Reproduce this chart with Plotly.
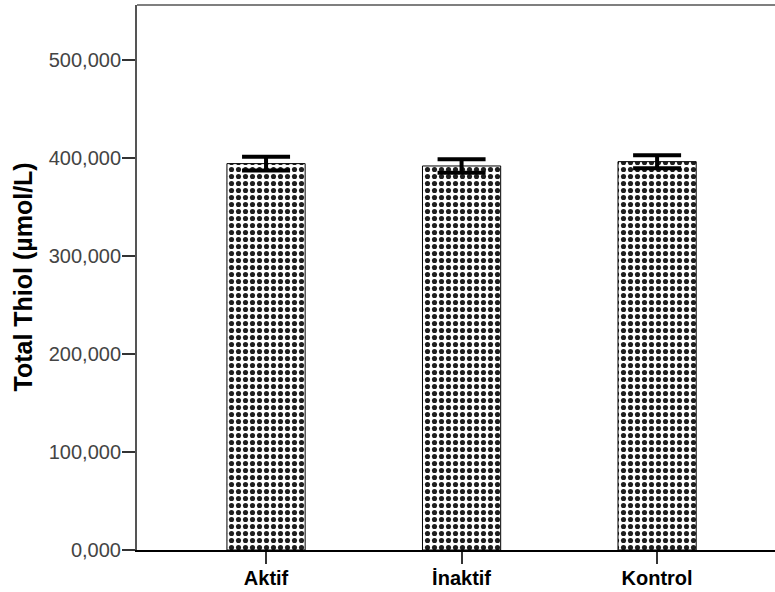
import plotly.graph_objects as go

# Group means and standard errors of total thiol (µmol/L)
groups = ["Aktif", "İnaktif", "Kontrol"]
total_thiol = [393900, 391500, 395900]
thiol_err = [7100, 6900, 6600]

# Y-axis ticks (comma as decimal separator, three decimals)
y_tickvals = [0, 100000, 200000, 300000, 400000, 500000]
y_ticktext = ["0,000", "100,000", "200,000", "300,000", "400,000", "500,000"]

fig = go.Figure()
fig.add_trace(go.Bar(
    x=groups,
    y=total_thiol,
    width=0.4,
    marker=dict(
        color="white",
        line=dict(color="black", width=1),
        pattern=dict(shape=".", fgcolor="#1e1e1e", bgcolor="white",
                     size=7, solidity=0.42, fillmode="replace"),
    ),
    error_y=dict(type="data", array=thiol_err, visible=True,
                 color="black", thickness=4, width=24),
    showlegend=False,
))

fig.update_layout(
    width=775, height=592,
    margin=dict(l=137, r=0, t=5, b=42),
    paper_bgcolor="white", plot_bgcolor="white",
    font=dict(family="Liberation Sans, Arial, sans-serif"),
    xaxis=dict(
        type="category",
        range=[-0.66, 2.603],
        showline=True, linecolor="black", linewidth=1.5,
        ticks="outside", ticklen=12, tickwidth=1.5, tickcolor="#333333",
        ticklabelstandoff=-3,
        tickfont=dict(size=20, color="black", family="Liberation Sans, Arial, sans-serif", weight="bold"),
        showgrid=False, zeroline=False,
    ),
    yaxis=dict(
        range=[0, 555600],
        tickvals=y_tickvals, ticktext=y_ticktext,
        showline=True, linecolor="#555555", linewidth=2,
        ticks="outside", ticklen=13, tickwidth=1.5, tickcolor="#333333",
        ticklabelstandoff=-3,
        tickfont=dict(size=20, color="#444444"),
        showgrid=False, zeroline=False,
    ),
    shapes=[dict(type="line", xref="paper", yref="paper",
                 x0=0, x1=1, y0=1, y1=1,
                 line=dict(color="#7f7f7f", width=2))],
    annotations=[dict(
        text="<b>Total Thiol (µmol/L)</b>",
        xref="paper", yref="paper",
        x=(22 - 137) / 638, y=0.5,
        xanchor="center", yanchor="middle",
        textangle=-90, showarrow=False,
        font=dict(size=25, color="black"),
    )],
)

fig.write_html("out.html")
